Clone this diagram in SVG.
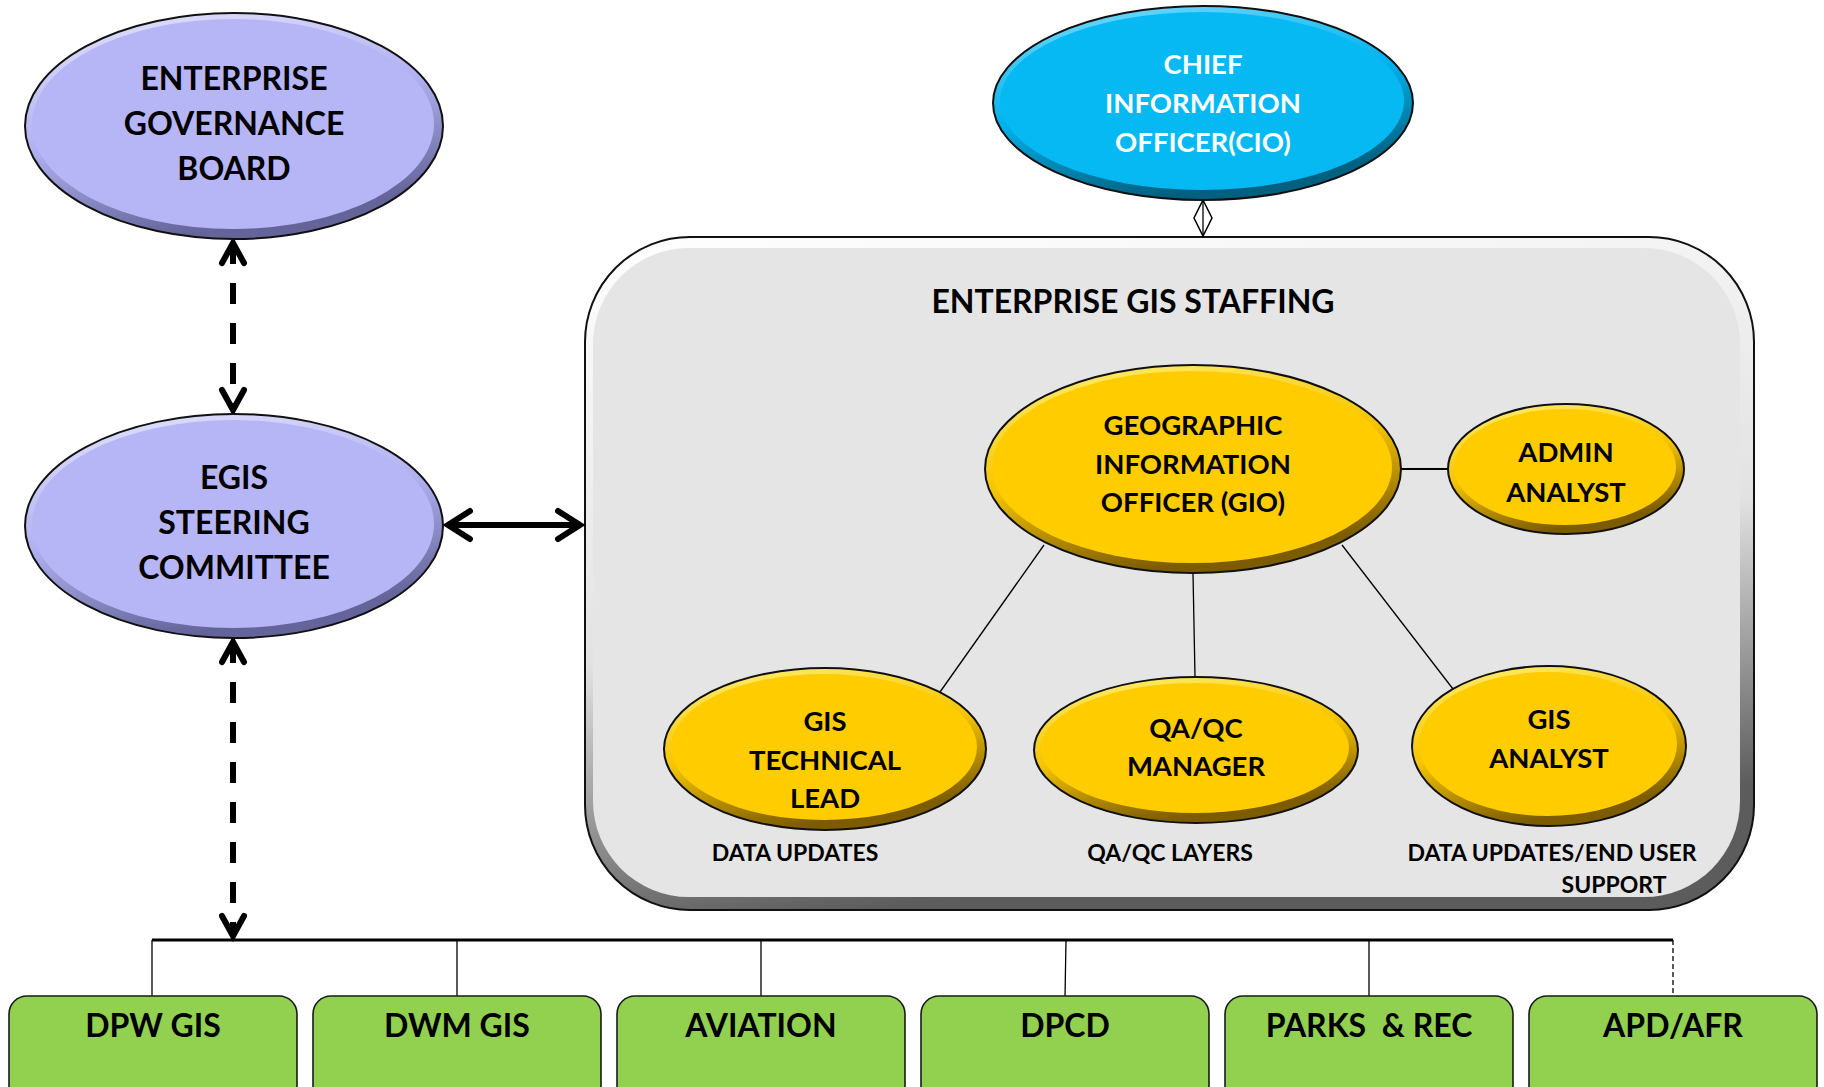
<svg xmlns="http://www.w3.org/2000/svg" width="1824" height="1087" viewBox="0 0 1824 1087">
  <style>
    .t{font-family:Lato,"Open Sans","Liberation Sans",sans-serif;font-weight:700;text-anchor:middle;fill:#000}
    .w{fill:#fff}
    .f31{font-size:32px}
    .f28{font-size:27.5px}
    .f30{font-size:32px}
    .f22{font-size:23px}
    .edge{stroke:#111;stroke-width:2}
    .dash{fill:none;stroke:#000;stroke-width:6;stroke-dasharray:21 19}
    .chev{fill:none;stroke:#000;stroke-width:6;stroke-linecap:round;stroke-linejoin:miter}
    .thick{fill:none;stroke:#000;stroke-width:6}
    .thin{fill:none;stroke:#000;stroke-width:1.3}
    .bus{fill:none;stroke:#000;stroke-width:3}
    .box{fill:#92d050;stroke:#1a1a1a;stroke-width:1.6}
  </style>
  <defs>
    <linearGradient id="rimLav" x1="0" y1="0" x2="0.35" y2="1">
      <stop offset="0" stop-color="#e6e6ff"/>
      <stop offset="0.55" stop-color="#b0b0f0"/>
      <stop offset="1" stop-color="#64649a"/>
    </linearGradient>
    <linearGradient id="rimCyan" x1="0" y1="0" x2="0.35" y2="1">
      <stop offset="0" stop-color="#80deff"/>
      <stop offset="0.55" stop-color="#00b2ec"/>
      <stop offset="1" stop-color="#006080"/>
    </linearGradient>
    <linearGradient id="rimGold" x1="0" y1="0" x2="0.35" y2="1">
      <stop offset="0" stop-color="#fff27a"/>
      <stop offset="0.55" stop-color="#f5c400"/>
      <stop offset="1" stop-color="#7d5c00"/>
    </linearGradient>
    <linearGradient id="rimGrey" x1="0" y1="0" x2="0.25" y2="1">
      <stop offset="0" stop-color="#ffffff"/>
      <stop offset="0.6" stop-color="#e2e2e2"/>
      <stop offset="1" stop-color="#5c5c5c"/>
    </linearGradient>
  </defs>

  <rect width="1824" height="1087" fill="#fff"/>

  <!-- staffing container with its captions -->
  <g id="staffing">
    <rect x="585" y="237" width="1169" height="673" rx="105" fill="url(#rimGrey)" class="edge"/>
    <rect x="593" y="248" width="1147" height="649" rx="96" fill="#e5e5e5"/>
    <text class="t f30" x="1133" y="313">ENTERPRISE GIS STAFFING</text>
    <text class="t f22" x="795" y="861">DATA UPDATES</text>
    <text class="t f22" x="1170" y="861">QA/QC LAYERS</text>
    <text class="t f22" x="1552" y="861">DATA UPDATES/END USER</text>
    <text class="t f22" x="1614" y="893">SUPPORT</text>
  </g>

  <!-- connectors -->
  <g id="connectors">
    <!-- board <-> steering committee -->
    <line class="dash" x1="233" y1="243" x2="233" y2="410"/>
    <polyline class="chev" points="222,263 233,243 244,263"/>
    <polyline class="chev" points="222,390 233,410 244,390"/>
    <!-- steering committee <-> departments -->
    <line class="dash" x1="233" y1="642" x2="233" y2="936"/>
    <polyline class="chev" points="222,662 233,642 244,662"/>
    <polyline class="chev" points="222,916 233,936 244,916"/>
    <!-- steering committee <-> staffing -->
    <line class="thick" x1="448" y1="525" x2="580" y2="525"/>
    <polyline class="chev" points="470,511 448,525 470,539"/>
    <polyline class="chev" points="558,511 580,525 558,539"/>
    <!-- CIO to staffing -->
    <line class="thin" x1="1203" y1="200" x2="1203" y2="236"/>
    <polygon points="1203,200 1212,218 1203,236 1194,218" fill="none" stroke="#000" stroke-width="1.5"/>
    <!-- GIO to team -->
    <line class="thin" x1="1401" y1="469" x2="1449" y2="469" style="stroke-width:2"/>
    <line class="thin" x1="1044" y1="545" x2="940" y2="692"/>
    <line class="thin" x1="1193" y1="573" x2="1195" y2="677"/>
    <line class="thin" x1="1342" y1="545" x2="1453" y2="689"/>
    <!-- department bus -->
    <line class="bus" x1="152" y1="940" x2="1673" y2="940"/>
    <line class="thin" x1="152" y1="940" x2="152" y2="997"/>
    <line class="thin" x1="457" y1="940" x2="457" y2="997"/>
    <line class="thin" x1="761" y1="940" x2="761" y2="997"/>
    <line class="thin" x1="1066" y1="940" x2="1065" y2="997"/>
    <line class="thin" x1="1369" y1="940" x2="1369" y2="997"/>
    <line class="thin" x1="1673" y1="940" x2="1673" y2="997" style="stroke-dasharray:5 3"/>
  </g>

  <g id="governance-board">
    <ellipse cx="234" cy="126" rx="209" ry="113" fill="url(#rimLav)" class="edge"/>
    <ellipse cx="233" cy="124" rx="201" ry="105" fill="#b6b6f6"/>
    <text class="t f31" x="234" y="90">ENTERPRISE</text>
    <text class="t f31" x="234" y="135">GOVERNANCE</text>
    <text class="t f31" x="234" y="180">BOARD</text>
  </g>

  <g id="steering-committee">
    <ellipse cx="234" cy="526" rx="209" ry="112" fill="url(#rimLav)" class="edge"/>
    <ellipse cx="233" cy="524" rx="201" ry="104" fill="#b6b6f6"/>
    <text class="t f31" x="234" y="489">EGIS</text>
    <text class="t f31" x="234" y="534">STEERING</text>
    <text class="t f31" x="234" y="579">COMMITTEE</text>
  </g>

  <g id="cio">
    <ellipse cx="1203" cy="103" rx="210" ry="97" fill="url(#rimCyan)" class="edge"/>
    <ellipse cx="1202" cy="101" rx="202" ry="89" fill="#06b9f3"/>
    <text class="t f28 w" x="1203" y="74">CHIEF</text>
    <text class="t f28 w" x="1203" y="113">INFORMATION</text>
    <text class="t f28 w" x="1203" y="152">OFFICER(CIO)</text>
  </g>

  <g id="gio">
    <ellipse cx="1193" cy="469" rx="208" ry="104" fill="url(#rimGold)" class="edge"/>
    <ellipse cx="1192" cy="467" rx="200" ry="96" fill="#ffcc00"/>
    <text class="t f28" x="1193" y="435">GEOGRAPHIC</text>
    <text class="t f28" x="1193" y="474">INFORMATION</text>
    <text class="t f28" x="1193" y="512">OFFICER (GIO)</text>
  </g>

  <g id="admin-analyst">
    <ellipse cx="1566" cy="469" rx="118" ry="65" fill="url(#rimGold)" class="edge"/>
    <ellipse cx="1565" cy="467" rx="111" ry="58" fill="#ffcc00"/>
    <text class="t f28" x="1566" y="462">ADMIN</text>
    <text class="t f28" x="1566" y="502">ANALYST</text>
  </g>

  <g id="gis-technical-lead">
    <ellipse cx="825" cy="749" rx="161" ry="81" fill="url(#rimGold)" class="edge"/>
    <ellipse cx="824" cy="747" rx="153" ry="73" fill="#ffcc00"/>
    <text class="t f28" x="825" y="731">GIS</text>
    <text class="t f28" x="825" y="770">TECHNICAL</text>
    <text class="t f28" x="825" y="808">LEAD</text>
  </g>

  <g id="qaqc-manager">
    <ellipse cx="1196" cy="750" rx="162" ry="73" fill="url(#rimGold)" class="edge"/>
    <ellipse cx="1195" cy="748" rx="154" ry="65" fill="#ffcc00"/>
    <text class="t f28" x="1196" y="738">QA/QC</text>
    <text class="t f28" x="1196" y="776">MANAGER</text>
  </g>

  <g id="gis-analyst">
    <ellipse cx="1549" cy="746" rx="137" ry="80" fill="url(#rimGold)" class="edge"/>
    <ellipse cx="1548" cy="744" rx="129" ry="72" fill="#ffcc00"/>
    <text class="t f28" x="1549" y="729">GIS</text>
    <text class="t f28" x="1549" y="768">ANALYST</text>
  </g>

  <!-- departments -->
  <g id="dpw-gis">
    <rect class="box" x="9" y="996" width="288" height="120" rx="18"/>
    <text class="t f31" x="153" y="1037">DPW GIS</text>
  </g>
  <g id="dwm-gis">
    <rect class="box" x="313" y="996" width="288" height="120" rx="18"/>
    <text class="t f31" x="457" y="1037">DWM GIS</text>
  </g>
  <g id="aviation">
    <rect class="box" x="617" y="996" width="288" height="120" rx="18"/>
    <text class="t f31" x="761" y="1037">AVIATION</text>
  </g>
  <g id="dpcd">
    <rect class="box" x="921" y="996" width="288" height="120" rx="18"/>
    <text class="t f31" x="1065" y="1037">DPCD</text>
  </g>
  <g id="parks-rec">
    <rect class="box" x="1225" y="996" width="288" height="120" rx="18"/>
    <text class="t f31" x="1369" y="1037" xml:space="preserve">PARKS  &amp; REC</text>
  </g>
  <g id="apd-afr">
    <rect class="box" x="1529" y="996" width="288" height="120" rx="18"/>
    <text class="t f31" x="1673" y="1037">APD/AFR</text>
  </g>
</svg>
